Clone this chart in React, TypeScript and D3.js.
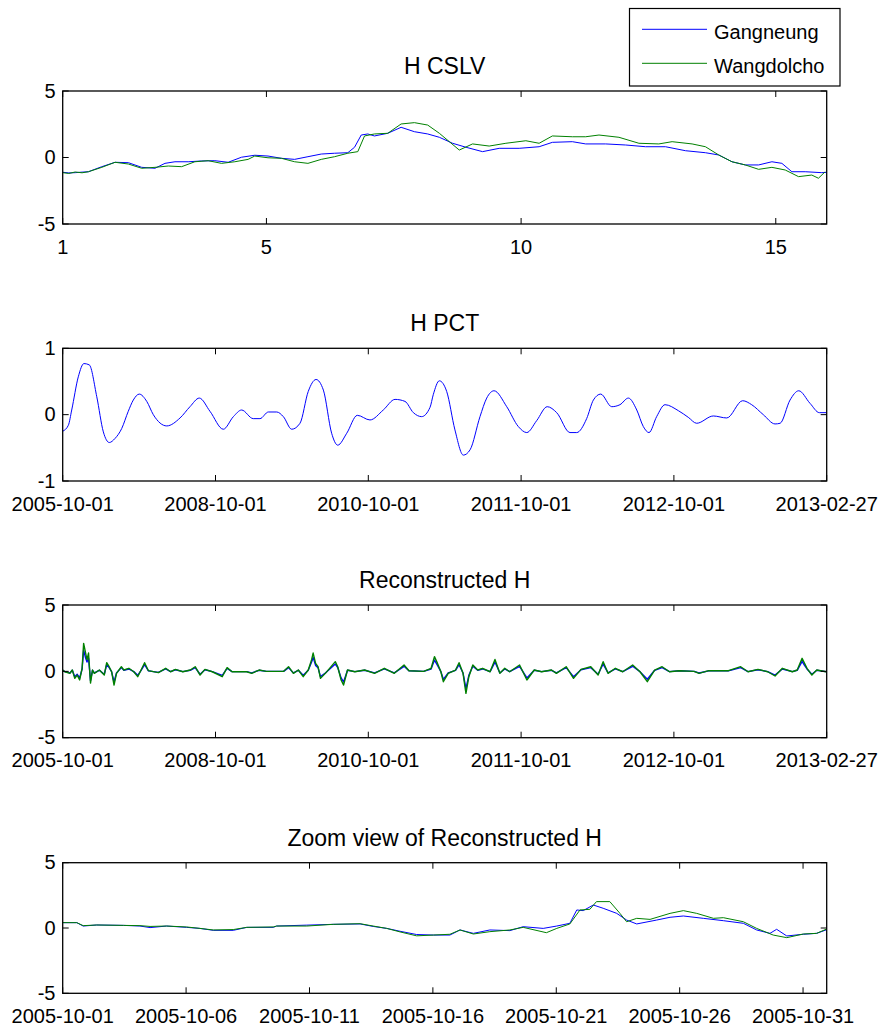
import React from 'react';
import * as d3 from 'd3';

const W = 883;
const H = 1027;
const FONT = '"Liberation Sans", Arial, Helvetica, sans-serif';
const BLUE = '#0000ff';
const GREEN = '#008000';

// ---------- Panel 1: H CSLV (x = mode index 1..16) ----------
const cslvTicks = [1, 5, 10, 15];
const gangneungCSLV: [number, number][] = [
  [1.0, -1.11], [1.12, -1.16], [1.245, -1.14], [1.38, -1.1], [1.505, -1.07], [1.768, -0.69], [2.028, -0.36],
  [2.289, -0.39], [2.551, -0.74], [2.812, -0.81], [3.008, -0.44], [3.204, -0.32], [3.464, -0.32],
  [3.727, -0.26], [3.987, -0.24], [4.248, -0.36], [4.51, 0.02], [4.771, 0.17], [5.031, 0.11],
  [5.294, -0.06], [5.554, -0.14], [5.815, 0.06], [6.077, 0.26], [6.338, 0.32], [6.598, 0.36],
  [6.73, 0.77], [6.861, 1.69], [6.99, 1.77], [7.121, 1.62], [7.382, 1.82], [7.644, 2.27],
  [7.905, 1.94], [8.166, 1.77], [8.395, 1.52], [8.655, 1.07], [8.918, 0.77], [9.243, 0.44],
  [9.57, 0.69], [9.962, 0.69], [10.354, 0.81], [10.614, 1.14], [11.006, 1.19], [11.268, 1.02],
  [11.66, 1.02], [12.052, 0.94], [12.444, 0.81], [12.835, 0.81], [13.227, 0.51], [13.619, 0.36],
  [13.88, 0.19], [14.14, -0.32], [14.402, -0.56], [14.663, -0.56], [14.924, -0.32], [15.12, -0.44],
  [15.316, -1.07], [15.578, -1.07], [15.903, -1.14], [16.0, -1.12],
];
const wangdolchoCSLV: [number, number][] = [
  [1.0, -1.14], [1.12, -1.2], [1.245, -1.09], [1.38, -1.15], [1.505, -1.07], [1.768, -0.74], [2.028, -0.36],
  [2.289, -0.49], [2.551, -0.81], [2.812, -0.74], [3.073, -0.64], [3.335, -0.69], [3.595, -0.32],
  [3.856, -0.24], [4.118, -0.44], [4.379, -0.32], [4.64, -0.14], [4.771, 0.11], [5.031, -0.02],
  [5.294, -0.06], [5.554, -0.32], [5.815, -0.44], [6.077, -0.14], [6.338, 0.06], [6.598, 0.32],
  [6.794, 0.44], [6.926, 1.62], [7.121, 1.77], [7.382, 1.82], [7.644, 2.52], [7.905, 2.62],
  [8.166, 2.44], [8.395, 1.82], [8.591, 1.19], [8.786, 0.56], [9.047, 1.02], [9.374, 0.86],
  [9.701, 1.07], [10.093, 1.26], [10.354, 1.07], [10.614, 1.62], [11.006, 1.56], [11.268, 1.56],
  [11.529, 1.69], [11.921, 1.52], [12.313, 1.07], [12.704, 1.02], [12.965, 1.19], [13.357, 1.02],
  [13.619, 0.81], [13.88, 0.19], [14.14, -0.32], [14.402, -0.56], [14.663, -0.89], [14.924, -0.74],
  [15.186, -0.94], [15.447, -1.44], [15.707, -1.32], [15.838, -1.56], [15.97, -1.07],
];

// ---------- Panels 2 and 3 share the record-position axis ----------
const recordTickLabels = ['2005-10-01', '2008-10-01', '2010-10-01', '2011-10-01', '2012-10-01', '2013-02-27'];

const hPCT: [number, number][] = [
  [0, -0.25], [0.037, -0.16], [0.059, 0.07], [0.102, 0.57], [0.139, 0.77], [0.174, 0.75], [0.223, 0.27],
  [0.266, -0.26], [0.305, -0.42], [0.342, -0.36], [0.386, -0.21], [0.429, 0.05], [0.462, 0.22],
  [0.501, 0.31], [0.55, 0.2], [0.593, 0.0], [0.681, -0.17], [0.768, -0.05], [0.833, 0.12],
  [0.894, 0.25], [0.964, 0.05], [1.051, -0.22], [1.117, -0.03], [1.171, 0.07], [1.247, -0.06],
  [1.291, -0.06], [1.346, 0.04], [1.401, 0.04], [1.444, -0.03], [1.499, -0.22], [1.553, -0.13],
  [1.607, 0.35], [1.658, 0.53], [1.706, 0.37], [1.76, -0.28], [1.8, -0.46], [1.859, -0.28],
  [1.928, -0.01], [2.011, -0.08], [2.098, 0.07], [2.175, 0.23], [2.24, 0.2], [2.295, 0.03],
  [2.349, -0.03], [2.404, 0.11], [2.425, 0.3], [2.465, 0.51], [2.513, 0.35], [2.567, -0.23],
  [2.622, -0.61], [2.666, -0.53], [2.731, -0.03], [2.775, 0.25], [2.823, 0.36], [2.906, 0.12],
  [2.982, -0.18], [3.037, -0.27], [3.102, -0.09], [3.171, 0.12], [3.233, 0.03], [3.32, -0.27],
  [3.364, -0.27], [3.429, -0.06], [3.473, 0.22], [3.521, 0.31], [3.593, 0.12], [3.647, 0.15],
  [3.702, 0.25], [3.757, 0.07], [3.8, -0.18], [3.837, -0.27], [3.887, -0.03], [3.942, 0.15],
  [4.029, 0.06], [4.094, -0.04], [4.149, -0.13], [4.258, -0.02], [4.346, -0.05], [4.45, 0.21],
  [4.509, 0.15], [4.585, 0.0], [4.662, -0.14], [4.695, -0.13], [4.76, 0.22], [4.817, 0.36],
  [4.891, 0.17], [4.952, 0.03], [5.0, 0.03],
];

const wangdolchoRecon: [number, number][] = [
  [0, 0.1], [0.014, -0.03], [0.047, -0.15], [0.063, 0.1], [0.079, -0.53], [0.095, -0.28], [0.111, -0.65],
  [0.127, 0.23], [0.137, 2.11], [0.15, 1.38], [0.159, 0.88], [0.169, 1.38], [0.182, -0.88],
  [0.195, 0.1], [0.207, -0.15], [0.24, 0.1], [0.272, -0.28], [0.288, 0.65], [0.304, 0.35],
  [0.32, -0.03], [0.336, -1.03], [0.352, -0.15], [0.384, 0.35], [0.4, 0.1], [0.433, 0.23],
  [0.465, -0.03], [0.491, -0.4], [0.513, 0.1], [0.536, 0.65], [0.561, 0.05], [0.626, -0.1],
  [0.674, 0.23], [0.706, -0.03], [0.738, 0.15], [0.786, -0.03], [0.835, 0.1], [0.867, 0.35],
  [0.899, -0.28], [0.931, 0.15], [0.979, -0.03], [1.044, -0.4], [1.076, 0.28], [1.108, -0.03],
  [1.204, -0.03], [1.237, -0.15], [1.285, 0.1], [1.333, 0.0], [1.446, 0.0], [1.478, 0.35],
  [1.51, -0.15], [1.542, 0.1], [1.574, -0.4], [1.607, 0.1], [1.629, 0.88], [1.639, 1.38],
  [1.655, 0.6], [1.671, 0.35], [1.687, -0.53], [1.719, -0.15], [1.784, 0.73], [1.8, 0.35],
  [1.822, -0.65], [1.838, -1.03], [1.864, 0.1], [1.912, -0.03], [1.976, 0.1], [2.041, -0.15],
  [2.105, 0.23], [2.17, -0.15], [2.234, 0.48], [2.266, 0.05], [2.362, 0.0], [2.411, 0.23],
  [2.433, 1.11], [2.453, 0.6], [2.475, -0.03], [2.491, -0.78], [2.523, -0.15], [2.571, 0.1],
  [2.594, 0.65], [2.62, -0.15], [2.639, -1.66], [2.658, -0.4], [2.684, 0.48], [2.716, 0.1],
  [2.748, 0.23], [2.797, -0.03], [2.829, 0.9], [2.861, -0.15], [2.893, 0.23], [2.925, -0.03],
  [2.99, 0.48], [3.038, -0.65], [3.086, 0.1], [3.134, -0.03], [3.199, 0.1], [3.231, -0.15],
  [3.295, 0.35], [3.343, -0.53], [3.392, 0.15], [3.456, 0.35], [3.504, -0.28], [3.537, 0.73],
  [3.569, -0.15], [3.617, 0.23], [3.665, -0.03], [3.73, 0.48], [3.778, -0.03], [3.826, -0.78],
  [3.874, 0.1], [3.923, 0.35], [3.971, -0.03], [4.035, 0.05], [4.132, 0.0], [4.164, -0.15],
  [4.228, 0.05], [4.357, 0.05], [4.437, 0.35], [4.485, -0.03], [4.55, 0.15], [4.614, -0.03],
  [4.662, -0.35], [4.71, 0.23], [4.775, -0.03], [4.807, 0.1], [4.839, 0.98], [4.855, 0.6],
  [4.871, 0.23], [4.903, -0.28], [4.935, 0.1], [4.994, -0.03], [5.0, 0.0],
];
const gangneungRecon: [number, number][] = [
  [0, 0.08], [0.014, -0.02], [0.047, -0.12], [0.063, 0.08], [0.079, -0.4], [0.095, -0.22], [0.111, -0.5],
  [0.127, 0.18], [0.137, 1.6], [0.15, 1.0], [0.159, 0.7], [0.169, 1.0], [0.182, -0.7],
  [0.195, 0.08], [0.207, -0.12], [0.24, 0.08], [0.272, -0.22], [0.288, 0.5], [0.304, 0.28],
  [0.32, -0.02], [0.336, -0.8], [0.352, -0.12], [0.384, 0.28], [0.4, 0.08], [0.433, 0.18],
  [0.465, -0.02], [0.491, -0.3], [0.513, 0.08], [0.536, 0.5], [0.561, 0.04], [0.626, -0.08],
  [0.674, 0.18], [0.706, -0.02], [0.738, 0.12], [0.786, -0.02], [0.835, 0.08], [0.867, 0.28],
  [0.899, -0.22], [0.931, 0.12], [0.979, -0.02], [1.044, -0.3], [1.076, 0.22], [1.108, -0.02],
  [1.204, -0.02], [1.237, -0.12], [1.285, 0.08], [1.333, 0.0], [1.446, 0.0], [1.478, 0.28],
  [1.51, -0.12], [1.542, 0.08], [1.574, -0.3], [1.607, 0.08], [1.629, 0.7], [1.639, 1.05],
  [1.655, 0.45], [1.671, 0.28], [1.687, -0.4], [1.719, -0.12], [1.784, 0.55], [1.8, 0.28],
  [1.822, -0.5], [1.838, -0.8], [1.864, 0.08], [1.912, -0.02], [1.976, 0.08], [2.041, -0.12],
  [2.105, 0.18], [2.17, -0.12], [2.234, 0.38], [2.266, 0.04], [2.362, 0.0], [2.411, 0.18],
  [2.433, 0.85], [2.453, 0.45], [2.475, -0.02], [2.491, -0.6], [2.523, -0.12], [2.571, 0.08],
  [2.594, 0.5], [2.62, -0.12], [2.639, -1.3], [2.658, -0.3], [2.684, 0.38], [2.716, 0.08],
  [2.748, 0.18], [2.797, -0.02], [2.829, 0.7], [2.861, -0.12], [2.893, 0.18], [2.925, -0.02],
  [2.99, 0.38], [3.038, -0.5], [3.086, 0.08], [3.134, -0.02], [3.199, 0.08], [3.231, -0.12],
  [3.295, 0.28], [3.343, -0.4], [3.392, 0.12], [3.456, 0.28], [3.504, -0.22], [3.537, 0.55],
  [3.569, -0.12], [3.617, 0.18], [3.665, -0.02], [3.73, 0.38], [3.778, -0.02], [3.826, -0.6],
  [3.874, 0.08], [3.923, 0.28], [3.971, -0.02], [4.035, 0.04], [4.132, 0.0], [4.164, -0.12],
  [4.228, 0.04], [4.357, 0.04], [4.437, 0.28], [4.485, -0.02], [4.55, 0.12], [4.614, -0.02],
  [4.662, -0.28], [4.71, 0.18], [4.775, -0.02], [4.807, 0.08], [4.839, 0.75], [4.855, 0.45],
  [4.871, 0.18], [4.903, -0.22], [4.935, 0.08], [4.994, -0.02], [5.0, 0.0],
];

// ---------- Panel 4: zoom view, x = days since 2005-10-01 ----------
const zoomTickDays = [0, 5, 10, 15, 20, 25, 30];
const zoomTickLabels = ['2005-10-01', '2005-10-06', '2005-10-11', '2005-10-16', '2005-10-21', '2005-10-26', '2005-10-31'];
const gangneungZoom: [number, number][] = [
  [0, 0.41], [0.57, 0.41], [0.83, 0.15], [1.38, 0.23], [2.46, 0.2], [3.13, 0.15], [3.54, 0.03],
  [4.21, 0.15], [5.02, 0.05], [5.56, -0.03], [6.1, -0.18], [6.91, -0.18], [7.46, 0.05], [8.53, 0.05],
  [8.67, 0.15], [9.89, 0.22], [10.96, 0.28], [12.05, 0.31], [12.58, 0.12], [13.13, -0.03],
  [13.67, -0.25], [14.34, -0.5], [15.02, -0.54], [15.69, -0.54], [16.1, -0.15], [16.64, -0.41],
  [17.31, -0.15], [18.12, -0.2], [18.66, 0.1], [19.47, -0.03], [20.02, 0.15], [20.55, 0.36],
  [20.83, 1.38], [21.09, 1.33], [21.5, 1.76], [21.9, 1.51], [22.45, 1.12], [22.85, 0.61],
  [23.26, 0.31], [24.07, 0.61], [24.61, 0.82], [25.15, 0.92], [25.96, 0.74], [26.77, 0.56],
  [27.58, 0.36], [28.12, -0.15], [28.66, -0.41], [28.93, -0.1], [29.34, -0.61], [30.01, -0.48],
  [30.55, -0.41], [30.93, -0.15],
];
const wangdolchoZoom: [number, number][] = [
  [0, 0.41], [0.57, 0.41], [0.83, 0.18], [1.38, 0.23], [2.46, 0.2], [3.13, 0.18], [3.54, 0.12],
  [4.21, 0.15], [5.02, 0.08], [5.56, -0.03], [6.1, -0.15], [6.91, -0.12], [7.46, 0.05], [8.53, 0.08],
  [8.67, 0.15], [9.89, 0.15], [10.96, 0.28], [12.05, 0.33], [12.58, 0.15], [13.13, -0.03],
  [13.67, -0.3], [14.34, -0.6], [15.02, -0.54], [15.69, -0.48], [16.1, -0.15], [16.64, -0.46],
  [17.31, -0.28], [18.12, -0.15], [18.66, 0.05], [19.6, -0.36], [20.02, -0.03], [20.55, 0.31],
  [20.96, 1.38], [21.36, 1.43], [21.63, 2.02], [22.17, 2.02], [22.58, 1.12], [22.85, 0.48],
  [23.26, 0.74], [23.8, 0.66], [24.61, 1.12], [25.15, 1.33], [25.69, 1.12], [26.37, 0.74],
  [26.77, 0.79], [27.58, 0.48], [28.12, -0.03], [28.79, -0.54], [29.34, -0.74], [30.01, -0.46],
  [30.55, -0.41], [30.93, -0.1],
];

const seriesNames = ['Gangneung', 'Wangdolcho'];

// ---------- layout ----------
const LEFT = 62.7;
const RIGHT = 826.7;
const TICK_LEN = 6;

type Series = { data: [number, number][]; color: string; width?: number; curve?: d3.CurveFactory };

function Panel(props: {
  top: number;
  bottom: number;
  title: string;
  xDomain: [number, number];
  yDomain: [number, number];
  xTicks: number[];
  xLabels: string[];
  yTicks: number[];
  series: Series[];
}) {
  const { top, bottom, title, xDomain, yDomain, xTicks, xLabels, yTicks, series } = props;
  const x = d3.scaleLinear().domain(xDomain).range([LEFT, RIGHT]);
  const y = d3.scaleLinear().domain(yDomain).range([bottom, top]);
  const clipId = `clip-${Math.round(top)}`;
  return (
    <g>
      <defs>
        <clipPath id={clipId}>
          <rect x={LEFT} y={top} width={RIGHT - LEFT} height={bottom - top} />
        </clipPath>
      </defs>
      <g clipPath={`url(#${clipId})`}>
        {series.map((s, i) => {
          const line = d3
            .line<[number, number]>()
            .x((d) => x(d[0]))
            .y((d) => y(d[1]))
            .curve(s.curve || d3.curveLinear);
          return (
            <path key={i} d={line(s.data) || ''} fill="none" stroke={s.color} strokeWidth={s.width || 1} strokeLinejoin="round" />
          );
        })}
      </g>
      {xTicks.map((t, i) => (
        <g key={`xt${i}`}>
          <line x1={x(t)} x2={x(t)} y1={bottom} y2={bottom - TICK_LEN} stroke="#000" strokeWidth={1} />
          <line x1={x(t)} x2={x(t)} y1={top} y2={top + TICK_LEN} stroke="#000" strokeWidth={1} />
          <text x={x(t)} y={bottom + 29.5} textAnchor="middle" fontFamily={FONT} fontSize={20} fill="#000">
            {xLabels[i]}
          </text>
        </g>
      ))}
      {yTicks.map((t, i) => (
        <g key={`yt${i}`}>
          <line x1={LEFT} x2={LEFT + TICK_LEN} y1={y(t)} y2={y(t)} stroke="#000" strokeWidth={1} />
          <line x1={RIGHT} x2={RIGHT - TICK_LEN} y1={y(t)} y2={y(t)} stroke="#000" strokeWidth={1} />
          <text x={55.5} y={y(t) + 6.5} textAnchor="end" fontFamily={FONT} fontSize={20} fill="#000">
            {String(t)}
          </text>
        </g>
      ))}
      <rect x={LEFT} y={top} width={RIGHT - LEFT} height={bottom - top} fill="none" stroke="#000" strokeWidth={1.3} />
      <text x={(LEFT + RIGHT) / 2} y={top - 17} textAnchor="middle" fontFamily={FONT} fontSize={23} fill="#000">
        {title}
      </text>
    </g>
  );
}

export default function App() {
  const idxTicks = recordTickLabels.map((_, i) => i);
  return (
    <svg
      width={W}
      height={H}
      viewBox={`0 0 ${W} ${H}`}
      style={{ position: 'absolute', left: 0, top: 0, background: '#fff' }}
    >
      <rect x={0} y={0} width={W} height={H} fill="#fff" />
      <Panel
        top={91}
        bottom={224}
        title="H CSLV"
        xDomain={[1, 16]}
        yDomain={[-5, 5]}
        xTicks={cslvTicks}
        xLabels={cslvTicks.map(String)}
        yTicks={[-5, 0, 5]}
        series={[
          { data: gangneungCSLV, color: BLUE },
          { data: wangdolchoCSLV, color: GREEN },
        ]}
      />
      <Panel
        top={348.3}
        bottom={481}
        title="H PCT"
        xDomain={[0, 5]}
        yDomain={[-1, 1]}
        xTicks={idxTicks}
        xLabels={recordTickLabels}
        yTicks={[-1, 0, 1]}
        series={[{ data: hPCT, color: BLUE, curve: d3.curveMonotoneX }]}
      />
      <Panel
        top={605}
        bottom={737.7}
        title="Reconstructed H"
        xDomain={[0, 5]}
        yDomain={[-5, 5]}
        xTicks={idxTicks}
        xLabels={recordTickLabels}
        yTicks={[-5, 0, 5]}
        series={[
          { data: gangneungRecon, color: BLUE, width: 1.4 },
          { data: wangdolchoRecon, color: GREEN, width: 1.4 },
        ]}
      />
      <Panel
        top={862.7}
        bottom={993.3}
        title="Zoom view of Reconstructed H"
        xDomain={[0, 30.958]}
        yDomain={[-5, 5]}
        xTicks={zoomTickDays}
        xLabels={zoomTickLabels}
        yTicks={[-5, 0, 5]}
        series={[
          { data: gangneungZoom, color: BLUE },
          { data: wangdolchoZoom, color: GREEN },
        ]}
      />
      <g>
        <rect x={629.5} y={8.5} width={210.5} height={77.5} fill="#fff" stroke="#000" strokeWidth={1.2} />
        {seriesNames.map((name, i) => {
          const ly = 29.3 + i * 34;
          return (
            <g key={name}>
              <line x1={642} x2={707} y1={ly} y2={ly} stroke={i === 0 ? BLUE : GREEN} strokeWidth={1} />
              <text x={714} y={ly + 10} fontFamily={FONT} fontSize={20} fill="#000">
                {name}
              </text>
            </g>
          );
        })}
      </g>
    </svg>
  );
}
